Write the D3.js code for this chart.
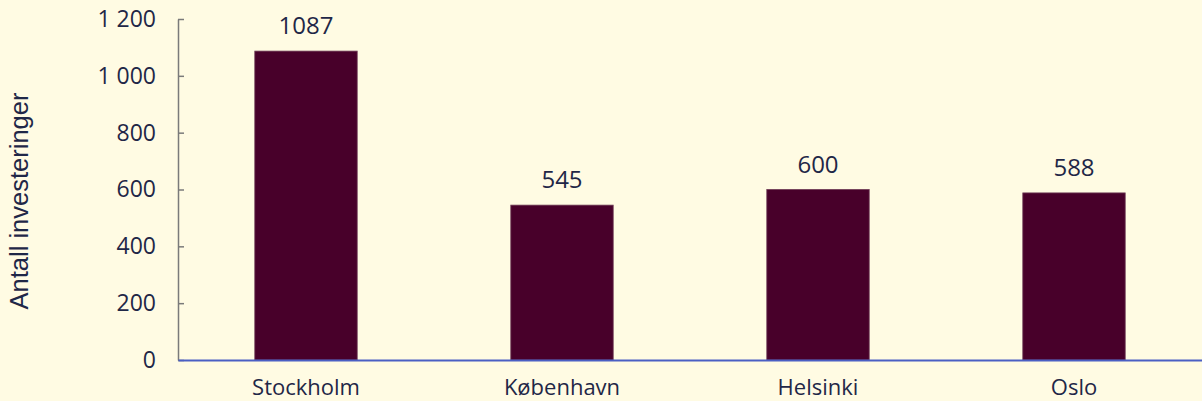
<!DOCTYPE html>
<html lang="no">
<head>
  <meta charset="UTF-8" />
  <title>Antall investeringer</title>
  <script src="https://d3js.org/d3.v7.min.js"></script>
  <style>
    html, body { margin: 0; padding: 0; background: #fffbe3; }
    svg { display: block; font-family: "Open Sans", sans-serif; }
    .tick text { fill: #1f2747; }
  </style>
</head>
<body>
  <svg id="chart" width="1202" height="401"></svg>

  <script>
    const cities = ["Stockholm", "København", "Helsinki", "Oslo"];
    const investments = [1087, 545, 600, 588];
    const yTicks = [0, 200, 400, 600, 800, 1000, 1200];
    const yLabel = "Antall investeringer";

    const svg = d3.select("#chart"),
          width = +svg.attr("width"),
          height = +svg.attr("height");

    const margin = { top: 19, right: 0, bottom: 41, left: 178 };
    const plotW = width - margin.left - margin.right,
          plotH = height - margin.top - margin.bottom;

    svg.append("rect").attr("width", width).attr("height", height).attr("fill", "#fffbe3");

    const g = svg.append("g").attr("transform", `translate(${margin.left},${margin.top})`);

    const x = d3.scaleBand().domain(cities).range([0, plotW]).paddingInner(0.6).paddingOuter(0.3);
    const y = d3.scaleLinear().domain([0, 1200]).range([plotH, 0]);

    const fmt = v => d3.format(",")(v).replace(/,/g, "\u00a0");

    // y axis, ticks pointing inward
    const yAxis = g.append("g")
      .call(d3.axisLeft(y).tickValues(yTicks).tickSize(-6).tickSizeOuter(0).tickPadding(22).tickFormat(fmt))
      .attr("font-family", "'Open Sans', sans-serif")
      .attr("font-size", 23);
    yAxis.select(".domain").attr("stroke", "#7a7a7a").attr("stroke-width", 1.5);
    yAxis.selectAll(".tick line").attr("stroke", "#7a7a7a").attr("stroke-width", 1.5);

    // bars
    g.selectAll("rect.bar")
      .data(investments)
      .join("rect")
      .attr("class", "bar")
      .attr("x", (d, i) => x(cities[i]))
      .attr("y", d => y(d))
      .attr("width", x.bandwidth())
      .attr("height", d => plotH - y(d))
      .attr("fill", "#48002a")
      .attr("stroke", "#6e3a55")
      .attr("stroke-width", 0.8);

    // value labels
    g.selectAll("text.value")
      .data(investments)
      .join("text")
      .attr("class", "value")
      .attr("x", (d, i) => x(cities[i]) + x.bandwidth() / 2)
      .attr("y", d => y(d) - 17)
      .attr("text-anchor", "middle")
      .attr("fill", "#1f2747")
      .attr("font-size", 24)
      .text(d => d);

    // x axis
    const xAxis = g.append("g")
      .attr("transform", `translate(0,${plotH})`)
      .call(d3.axisBottom(x).tickSize(0).tickPadding(19))
      .attr("font-family", "'Open Sans', sans-serif")
      .attr("font-size", 22);
    xAxis.select(".domain").attr("stroke", "#4a5fc4").attr("stroke-width", 2);

    // y label
    svg.append("text")
      .attr("transform", `translate(28,201) rotate(-90)`)
      .attr("text-anchor", "middle")
      .attr("fill", "#1f2747")
      .attr("font-family", "'Liberation Sans', Arial, sans-serif")
      .attr("font-size", 25.5)
      .text(yLabel);
  </script>
</body>
</html>
